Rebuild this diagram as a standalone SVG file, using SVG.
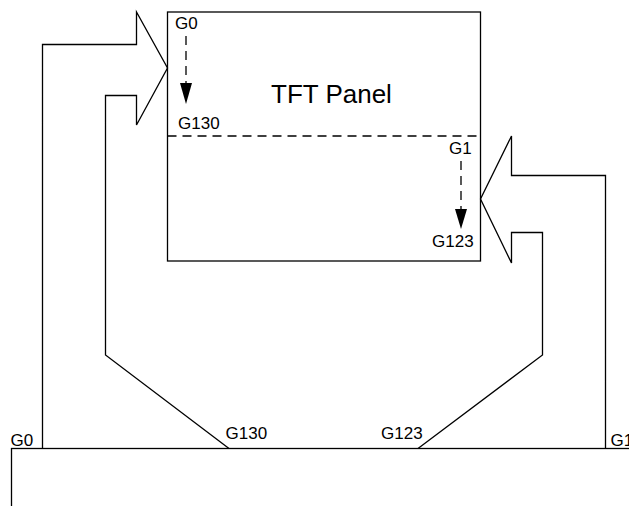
<svg xmlns="http://www.w3.org/2000/svg" width="629" height="506" viewBox="0 0 629 506">
<style>
.ln{fill:none;stroke:#000;stroke-width:1.3;stroke-linejoin:miter}
.dash{fill:none;stroke:#000;stroke-width:1.3;stroke-dasharray:9,6}
.lbl{font-family:"Liberation Sans",Arial,sans-serif;font-size:17px;fill:#000}
.title{font-family:"Liberation Sans",Arial,sans-serif;font-size:26px;fill:#000}
.head{fill:#000;stroke:none}
</style>
<rect width="629" height="506" fill="#fff"/>
<g id="panel">
  <rect class="ln" x="167.5" y="12" width="313" height="249" fill="#fff"/>
  <line class="dash" x1="167.5" y1="136" x2="480.5" y2="136"/>
  <text class="title" x="271" y="103">TFT Panel</text>
  <text class="lbl" x="175" y="29">G0</text>
  <line class="dash" x1="186" y1="36" x2="186" y2="84"/>
  <polygon class="head" points="180,83 192,83 186,104"/>
  <text class="lbl" x="178" y="129">G130</text>
  <text class="lbl" x="449" y="154">G1</text>
  <line class="dash" x1="461" y1="161" x2="461" y2="210"/>
  <polygon class="head" points="455,209 467,209 461,229"/>
  <text class="lbl" x="432" y="247">G123</text>
</g>
<g id="driver">
  <rect class="ln" x="11.5" y="448.5" width="700" height="100"/>
  <text class="lbl" x="10.5" y="445.5">G0</text>
  <text class="lbl" x="225.5" y="439">G130</text>
  <text class="lbl" x="381" y="439">G123</text>
  <text class="lbl" x="610.5" y="445.5">G1</text>
</g>
<g id="connectors">
  <polyline class="ln" points="42.5,448.5 42.5,44.5 136.5,44.5 136.5,12 167.5,68 136.5,125 136.5,95.5 105.5,95.5 105.5,355 229,448.5"/>
  <polyline class="ln" points="605.5,448.5 605.5,175.5 511.5,175.5 511.5,136 480.5,199 511.5,263 511.5,232.5 542.5,232.5 542.5,355 418,448.5"/>
</g>
</svg>
